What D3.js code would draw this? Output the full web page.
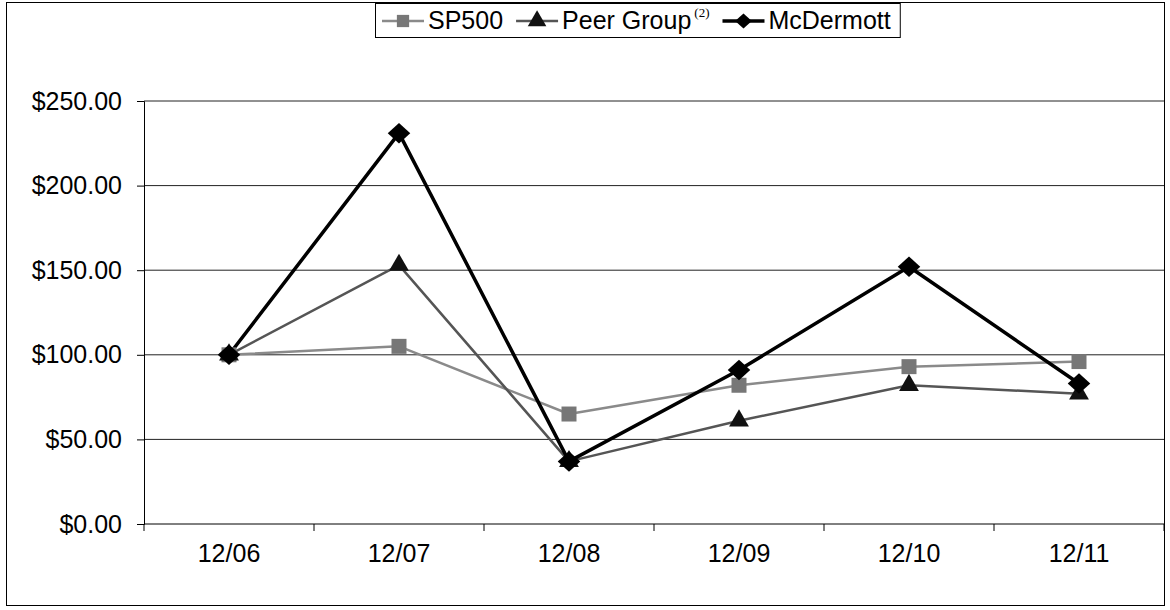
<!DOCTYPE html>
<html>
<head>
<meta charset="utf-8">
<script src="https://cdn.jsdelivr.net/npm/d3@7"></script>
<style>
  body { margin: 0; background: #fff; }
  svg { font-family: "Liberation Sans", Arial, sans-serif; }
</style>
</head>
<body>
<div id="chart"></div>
<script>
// Chart data
const periods = ["12/06", "12/07", "12/08", "12/09", "12/10", "12/11"];
const sp500 = [100, 105, 65, 82, 93, 96];
const peerGroup = [100, 153, 37, 61, 82, 77];
const mcdermott = [100, 231, 37, 91, 152, 83];
const yTicks = [0, 50, 100, 150, 200, 250];

const series = [
    {name: "SP500", values: sp500, stroke: "#8a8a8a", width: 2.5, marker: "square", fill: "#777"},
    {name: "Peer Group", values: peerGroup, stroke: "#555", width: 2.5, marker: "triangle", fill: "#111"},
    {name: "McDermott", values: mcdermott, stroke: "#000", width: 3.5, marker: "diamond", fill: "#000"}
];

const W = 1170, H = 610;
const margin = {top: 101, right: 6, bottom: 86, left: 144};
const width = W - margin.left - margin.right,
      height = H - margin.top - margin.bottom;

const svg = d3.select("#chart").append("svg")
    .attr("width", W)
    .attr("height", H);

// outer chart border
svg.append("rect")
    .attr("x", 6.5).attr("y", 2.5)
    .attr("width", W - 12).attr("height", H - 7)
    .attr("fill", "none").attr("stroke", "#000").attr("stroke-width", 1);

const g = svg.append("g")
    .attr("transform", "translate(" + margin.left + "," + margin.top + ")");

const x = d3.scaleBand().domain(periods).range([0, 1020]);
const y = d3.scaleLinear().domain([0, 250]).range([height, 0]);

// gridlines
g.selectAll(".grid")
    .data(yTicks.filter(d => d > 0))
    .enter().append("line")
        .attr("class", "grid")
        .attr("x1", 0).attr("x2", width)
        .attr("y1", d => y(d)).attr("y2", d => y(d))
        .attr("stroke", "#222").attr("stroke-width", 1);

// y axis
const yAxis = g.append("g")
    .call(d3.axisLeft(y).tickValues(yTicks).tickSize(7).tickPadding(15)
        .tickFormat(d => "$" + d3.format(".2f")(d)));
yAxis.select(".domain").attr("stroke", "#000");
yAxis.selectAll("text").attr("font-size", 25).attr("fill", "#000")
    .attr("font-family", "Liberation Sans, Arial, sans-serif");

// x axis: ticks at category boundaries
const xAxis = g.append("g")
    .attr("transform", "translate(0," + height + ")");
xAxis.append("line")
    .attr("x1", 0).attr("x2", width)
    .attr("stroke", "#000");
xAxis.selectAll(".xtick")
    .data(periods.concat([null]))
    .enter().append("line")
        .attr("x1", (d, i) => i * x.bandwidth())
        .attr("x2", (d, i) => i * x.bandwidth())
        .attr("y1", 0).attr("y2", 7)
        .attr("stroke", "#000");
xAxis.selectAll(".xlabel")
    .data(periods)
    .enter().append("text")
        .attr("x", d => x(d) + x.bandwidth() / 2)
        .attr("y", 38)
        .attr("text-anchor", "middle")
        .attr("font-size", 25)
        .text(d => d);

const cx = d => x(d) + x.bandwidth() / 2;

const line = d3.line()
    .x((d, i) => cx(periods[i]))
    .y(d => y(d));

// marker shapes
const diamondShape = {
    draw(ctx, size) {
        const r = Math.sqrt(size) / 2;
        ctx.moveTo(0, -r);
        ctx.lineTo(r * 1.1, 0);
        ctx.lineTo(0, r);
        ctx.lineTo(-r * 1.1, 0);
        ctx.closePath();
    }
};
const symbolFor = {
    square: d3.symbol().type(d3.symbolSquare).size(225),
    triangle: d3.symbol().type(d3.symbolTriangle).size(170),
    diamond: d3.symbol().type(diamondShape).size(420)
};

series.forEach(s => {
    g.append("path")
        .datum(s.values)
        .attr("fill", "none")
        .attr("stroke", s.stroke)
        .attr("stroke-width", s.width)
        .attr("stroke-linejoin", "round")
        .attr("d", line);
});
series.forEach(s => {
    g.selectAll(".m-" + s.marker)
        .data(s.values)
        .enter().append("path")
            .attr("transform", (d, i) => "translate(" + cx(periods[i]) + "," + y(d) + ")")
            .attr("d", symbolFor[s.marker]())
            .attr("fill", s.fill);
});

// legend
const legendSize = {square: 150, triangle: 150, diamond: 230};
const legend = svg.append("g");
const box = legend.append("rect")
    .attr("x", 375.5).attr("y", 3.5)
    .attr("height", 34)
    .attr("fill", "#fff").attr("stroke", "#000");

let lx = 382;
series.forEach(s => {
    legend.append("line")
        .attr("x1", lx).attr("x2", lx + 42)
        .attr("y1", 21).attr("y2", 21)
        .attr("stroke", s.stroke).attr("stroke-width", s.width);
    legend.append("path")
        .attr("transform", "translate(" + (lx + 21) + ",21)")
        .attr("d", d3.symbol().type(s.marker === "diamond" ? diamondShape
            : s.marker === "square" ? d3.symbolSquare : d3.symbolTriangle)
            .size(legendSize[s.marker])())
        .attr("fill", s.fill);
    const t = legend.append("text")
        .attr("x", lx + 46).attr("y", 29)
        .attr("font-size", 25)
        .text(s.name);
    if (s.name === "Peer Group") {
        t.append("tspan")
            .attr("dy", -12).attr("dx", 3)
            .attr("font-size", 13)
            .attr("font-family", "Liberation Serif, serif")
            .text("(2)");
    }
    const bb = t.node().getBBox();
    lx = bb.x + bb.width + 13;
});
box.attr("width", lx - 375 - 4);
</script>
</body>
</html>
